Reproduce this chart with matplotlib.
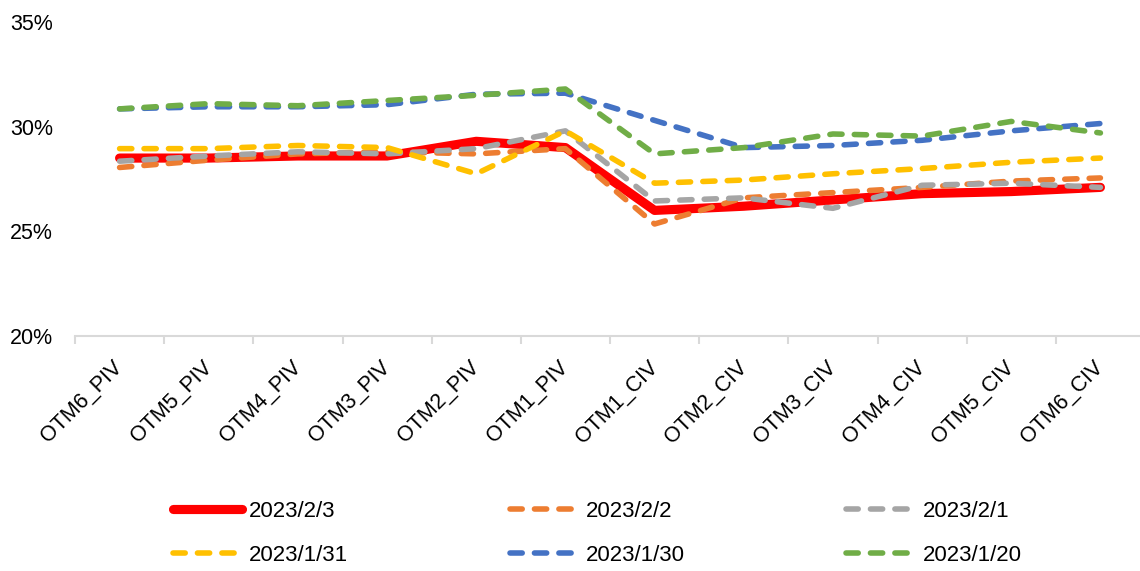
import matplotlib
matplotlib.use("Agg")
import matplotlib.pyplot as plt
from matplotlib.ticker import FuncFormatter, FixedLocator
import numpy as np

# data (implied vol, %)
categories = ['OTM6_PIV', 'OTM5_PIV', 'OTM4_PIV', 'OTM3_PIV', 'OTM2_PIV', 'OTM1_PIV',
              'OTM1_CIV', 'OTM2_CIV', 'OTM3_CIV', 'OTM4_CIV', 'OTM5_CIV', 'OTM6_CIV']
iv_0203 = [28.5, 28.5, 28.6, 28.6, 29.3, 29.0, 26.0, 26.2, 26.5, 26.8, 26.9, 27.1]
iv_0202 = [28.05, 28.4, 28.7, 28.8, 28.7, 28.95, 25.35, 26.6, 26.85, 27.1, 27.4, 27.55]
iv_0201 = [28.35, 28.6, 28.8, 28.7, 28.95, 29.8, 26.45, 26.6, 26.1, 27.2, 27.3, 27.1]
iv_0131 = [28.95, 28.95, 29.1, 29.0, 27.75, 29.8, 27.3, 27.45, 27.75, 28.0, 28.3, 28.5]
iv_0130 = [30.85, 30.95, 30.95, 31.05, 31.55, 31.6, 30.3, 29.0, 29.1, 29.35, 29.8, 30.15]
iv_0120 = [30.85, 31.1, 31.0, 31.25, 31.5, 31.8, 28.7, 29.0, 29.65, 29.55, 30.25, 29.7]

series = [
    ('2023/2/3', iv_0203, '#ff0000'),
    ('2023/2/2', iv_0202, '#ed7d31'),
    ('2023/2/1', iv_0201, '#a5a5a5'),
    ('2023/1/31', iv_0131, '#ffc000'),
    ('2023/1/30', iv_0130, '#4472c4'),
    ('2023/1/20', iv_0120, '#70ad47'),
]

plt.rcParams['font.family'] = ['Liberation Sans', 'DejaVu Sans']

fig = plt.figure(figsize=(11.4, 5.71), dpi=100)
ax = fig.add_axes([75 / 1140, 1 - 336 / 571, 1070 / 1140, 314 / 571])

x = np.arange(len(categories))
handles = []
for i, (name, vals, col) in enumerate(series):
    v = np.array(vals) / 100
    if i == 0:
        h, = ax.plot(x, v, color=col, lw=6.6, solid_capstyle='round',
                     solid_joinstyle='round', label=name)
    else:
        h, = ax.plot(x, v, color=col, lw=4.0, linestyle=(0, (2.2, 2.2)),
                     dash_capstyle='round', dash_joinstyle='round', label=name)
    handles.append(h)

ax.set_xlim(-0.5, len(categories) - 0.5)
ax.set_ylim(0.20, 0.35)
ax.set_yticks([0.20, 0.25, 0.30, 0.35])
ax.yaxis.set_major_formatter(FuncFormatter(lambda v, p: f'{v * 100:.0f}%'))

ax.set_xticks(x)
ax.set_xticklabels(categories, rotation=45, ha='right', va='center',
                   rotation_mode='anchor', fontsize=15.5)
ax.xaxis.set_minor_locator(FixedLocator(np.arange(-0.5, len(categories), 1.0)))
ax.tick_params(axis='x', which='major', length=0, pad=20)
ax.tick_params(axis='x', which='minor', length=6, width=1.5, color='#d9d9d9')
ax.tick_params(axis='y', length=0, pad=16, labelsize=15.5)

for s in ['top', 'right', 'left']:
    ax.spines[s].set_visible(False)
ax.spines['bottom'].set_color('#d9d9d9')
ax.spines['bottom'].set_linewidth(1.5)

order = [0, 3, 1, 4, 2, 5]
leg = fig.legend([handles[k] for k in order], [series[k][0] for k in order],
                 ncol=3, loc='center', bbox_to_anchor=(0.524, 0.066),
                 frameon=False, fontsize=16, handlelength=3.1,
                 handletextpad=0.35, columnspacing=7.25, labelspacing=1.05)

fig.savefig('out.png', dpi=100)
